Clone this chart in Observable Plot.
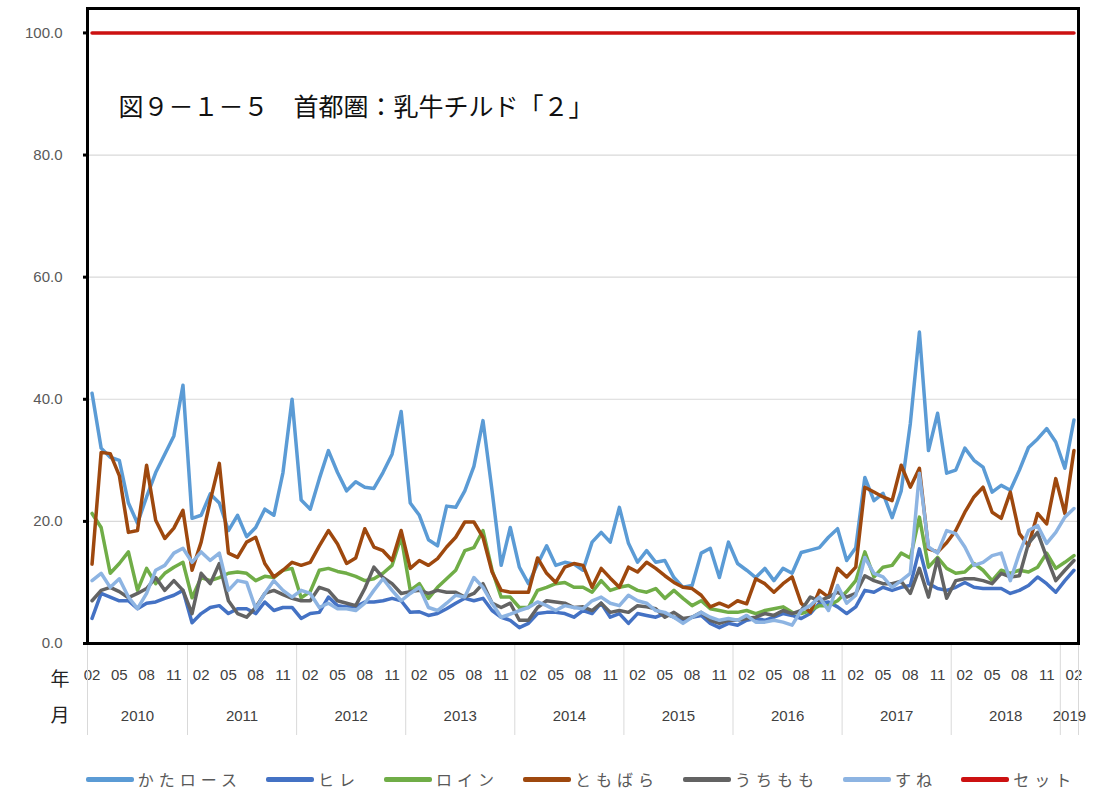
<!DOCTYPE html>
<html><head><meta charset="utf-8">
<script src="https://cdn.jsdelivr.net/npm/d3@7"></script>
<script src="https://cdn.jsdelivr.net/npm/@observablehq/plot@0.6"></script>
<style>
body{margin:0;background:#fff;}
#legend{box-sizing:border-box;width:1094px;height:34px;padding-left:68px;display:flex;justify-content:center;align-items:center;gap:24px;font-family:"Noto Sans CJK JP",sans-serif;font-size:16px;letter-spacing:5px;color:#595959;}
.item{display:flex;align-items:center;}
.sw{display:inline-block;width:48px;height:5px;border-radius:2px;margin-right:4px;}
</style></head><body>
<div id="chart"></div><div id="legend"></div>
<script>
const title = "図９－１－５　首都圏：乳牛チルド「２」";
const startYear = 2010;
const startMonth = 2;
const yTicks = [0, 20, 40, 60, 80, 100];
const gridTicks = [20, 40, 60, 80];
const monthShown = [2, 5, 8, 11];

const kata = [41,32,30.5,30,23,19.7,24,28,31,34,42.3,20.5,21,24.5,23,18.5,21,17.5,19,22,21,28,40,23.5,22,27,31.6,28,25,26.5,25.6,25.4,28,31,38,23,21,17,16,22.5,22.3,25,29,36.5,25,12.8,19,12.5,9.8,13,16,12.8,13.3,13,12,16.6,18.2,16.6,22.3,16.4,13.3,15.2,13.3,13.6,10.8,9.2,9.5,14.8,15.6,10.8,16.6,13.1,12,10.8,12.3,10.3,12.3,11.5,14.9,15.3,15.7,17.4,18.8,13.6,15.7,27.2,23.4,24.6,20.6,25,36,51,31.6,37.7,27.9,28.4,32,30,28.9,24.8,25.9,25.1,28.4,32.1,33.5,35.2,33,28.7,36.6];
const hire = [4.1,8.2,7.6,7,7,5.7,6.6,6.8,7.4,7.9,8.7,3.4,4.9,5.9,6.2,4.9,5.7,5.7,4.9,6.8,5.4,5.9,5.9,4.1,4.9,5.1,7.6,6.2,6,6,6.8,6.8,7,7.4,7,5.1,5.2,4.6,4.9,5.7,6.6,7.4,7,7.4,5.4,4.3,3.8,2.6,3.3,4.9,5.1,5.1,4.9,4.3,5.4,4.9,6.6,4.3,4.9,3.3,4.9,4.6,4.3,4.9,4.3,3.8,4.3,4.6,3.3,2.6,3.3,3,3.8,4.1,3.8,4.3,4.9,4.6,4.1,4.9,6.6,6.8,6,4.9,6,8.7,8.4,9.2,8.7,9.2,9.5,15.5,9.8,9,8.7,9.2,10,9.2,9,9,9,8.2,8.7,9.5,10.9,9.8,8.4,10.3,12];
const loin = [21.3,19,11.5,13.1,15,8.7,12.3,9.8,11.5,12.5,13.3,7.5,10.8,10.3,10.8,11.5,11.7,11.5,10.3,11,10.8,12,12.3,7.5,8.5,12,12.3,11.8,11.5,11,10.3,10.6,11.5,12.8,17.5,8.7,9.8,7.4,9.2,10.6,12,15.2,15.7,18.5,12,7.6,7.6,5.9,5.9,8.7,9.2,9.8,10,9.2,9.2,8.4,10.3,8.7,9.2,9.5,8.7,8.4,9,7.4,8.7,7.4,6.2,7,5.7,5.4,5.1,5.1,5.4,4.9,5.4,5.7,6,5.1,4.9,5.4,6.2,6.2,7,8.5,10.3,15,10.9,12.5,12.8,14.8,14,20.7,12.5,14.1,12.3,11.5,11.7,13.1,12,10.3,12,11.5,12,11.7,12.5,14.8,12.3,13.3,14.4];
const tomo = [13,31.3,31.1,27.5,18.2,18.5,29.2,20.2,17.2,18.9,21.8,12,16.6,23.4,29.5,14.8,14.1,16.6,17.4,13.1,10.9,12,13.3,12.8,13.3,16,18.5,16.3,13.1,14,18.8,15.8,15.2,13.6,18.5,12.3,13.6,12.8,13.9,15.8,17.4,19.9,19.9,17.4,11.7,8.7,8.4,8.4,8.4,14,11.5,10,12.5,13.1,12.8,9.2,12.3,10.7,9.2,12.5,11.7,13.3,12.3,11.1,10,9.2,9,7.9,6,6.6,6,7,6.5,10.6,9.8,8.4,9.8,10.9,6.6,5.1,8.7,7.6,12.3,10.9,12.5,25.6,24.8,24,23.4,29.2,25.6,28.7,15.5,15,16.5,18.5,21.5,24,25.6,21.5,20.5,24.8,18,16,21.3,19.6,27,21.3,31.6];
const uchi = [7,8.7,9.2,8.5,7.5,8.2,9,10.8,8.7,10.3,8.7,4.9,11.5,9.8,13.1,7,4.9,4.3,5.9,8.2,8.7,8,7.4,7,7,9.2,8.7,7,6.6,6.2,9,12.5,10.8,9.8,8.2,8.5,8.7,8.2,8.7,8.4,8.4,7.6,8.2,9.8,6.6,5.9,6.6,3.8,3.8,5.9,7,6.8,6.6,5.9,6,5.4,6.6,5.1,5.4,5.1,6.2,6,5.7,4.3,5.1,4.1,4.3,5.1,3.8,3.3,3.8,3.8,4.1,4.3,4.9,4.6,5.4,4.9,5.4,7.6,7,7.6,8.4,7.6,8.2,11.1,10.3,9.8,9.8,10.2,8.2,12.3,7.6,13.9,7.4,10.3,10.6,10.6,10.3,9.8,11.5,10.9,11.1,16.4,18.2,14.1,10.3,12,13.6];
const sune = [10.3,11.5,9.2,10.6,7.6,5.7,8.2,12,12.8,14.8,15.6,13.3,15,13.6,14.8,8.7,10.3,10,5.7,8.2,10.3,8.7,7.6,8.7,8.2,5.9,6.6,5.7,5.7,5.4,6.6,8.7,10.6,8.7,7,8.2,9.2,5.9,5.4,6.6,7.9,7.6,10.8,9.2,6.6,4.3,4.8,5.4,5.9,6.8,6.2,5.4,6.2,5.9,5.7,7,7.6,6.6,6.2,7.9,7,6.6,5.4,5.1,4.3,3.3,4.3,5.1,4.3,3.8,4.1,3.8,4.6,3.5,3.5,3.8,3.5,3,5.4,6.2,7.6,5.4,9.5,6.6,7.9,14.1,11.5,10.9,9.2,10.3,11.5,27.9,15.8,14.8,18.5,18,15.8,12.8,13.3,14.4,14.8,10.3,14.8,18.5,19.3,16.4,18.2,20.7,22.1];
const setLine = Array.from({length: 109}, () => 100);

const seriesNames = ["かたロース", "ヒレ", "ロイン", "ともばら", "うちもも", "すね", "セット"];
const seriesColors = ["#5B9BD5", "#4472C4", "#70AD47", "#9E480E", "#636363", "#8DB4E2", "#CC1111"];
const seriesValues = [kata, hire, loin, tomo, uchi, sune, setLine];

const n = kata.length;
const monthOf = i => ((startMonth - 1 + i) % 12) + 1;
const yearOf = i => startYear + Math.floor((startMonth - 1 + i) / 12);
const idx = d3.range(n);
const monthTicks = idx.filter(i => monthShown.includes(monthOf(i)));
const years = Array.from(new Set(idx.map(yearOf)));
const yearGroups = years.map(y => { const m = idx.filter(i => yearOf(i) === y); return {year: y, first: m[0], last: m[m.length - 1]}; });
const yearBounds = yearGroups.map(g => g.first - 0.5).concat([n - 0.5]);

const rows = seriesNames.flatMap((name, s) => seriesValues[s].map((v, i) => ({series: name, i, value: v})));

const chart = Plot.plot({
  width: 1094, height: 762,
  marginLeft: 87, marginRight: 16, marginTop: 8, marginBottom: 119,
  style: {fontFamily: "'Liberation Sans','Noto Sans CJK JP',sans-serif", fontSize: "15px", background: "#fff"},
  x: {type: "linear", domain: [-0.5, n - 0.5], label: null},
  y: {domain: [0, 104], label: null},
  color: {domain: seriesNames, range: seriesColors},
  marks: [
    Plot.gridY(gridTicks, {stroke: "#D9D9D9", strokeOpacity: 1, strokeWidth: 1.2}),
    Plot.axisY(yTicks, {tickSize: 0, tickPadding: 25, tickFormat: d => d.toFixed(1), fill: "#595959", fontSize: 15, label: null}),
    Plot.axisY(yTicks, {tickSize: 4, tickFormat: () => "", stroke: "black", strokeWidth: 3, label: null}),
    Plot.axisX(monthTicks, {tickSize: 0, tickPadding: 26, tickFormat: i => String(monthOf(i)).padStart(2, "0"), fill: "#404040", fontSize: 15, label: null}),
    Plot.axisX(yearBounds, {tickSize: 92, tickFormat: () => "", stroke: "#D9D9D9", strokeWidth: 1, label: null}),
    Plot.text(yearGroups, {x: g => (g.first + g.last) / 2, text: g => String(g.year), frameAnchor: "bottom", dy: 77, fill: "#404040", fontSize: 15}),
    Plot.text(["年\n月"], {text: d => d, frameAnchor: "bottom-left", dx: -37, dy: 18, lineAnchor: "top", lineHeight: 1.85, fontSize: 19, fill: "#222", fontFamily: "Noto Sans CJK JP"}),
    Plot.line(rows, {x: "i", y: "value", z: "series", stroke: "series", strokeWidth: 3.5, strokeLinejoin: "round"}),
    Plot.text([title], {text: d => d, frameAnchor: "top-left", dx: 31, dy: 90, textAnchor: "start", fontSize: 25, fill: "#111", fontFamily: "Noto Sans CJK JP"}),
    Plot.frame({stroke: "black", strokeWidth: 3})
  ]
});
document.getElementById("chart").appendChild(chart);

const legend = document.getElementById("legend");
seriesNames.forEach((name, s) => {
  const item = document.createElement("div");
  item.className = "item";
  const sw = document.createElement("span");
  sw.className = "sw";
  sw.style.background = seriesColors[s];
  const t = document.createElement("span");
  t.textContent = name;
  item.appendChild(sw); item.appendChild(t);
  legend.appendChild(item);
});
</script></body></html>
